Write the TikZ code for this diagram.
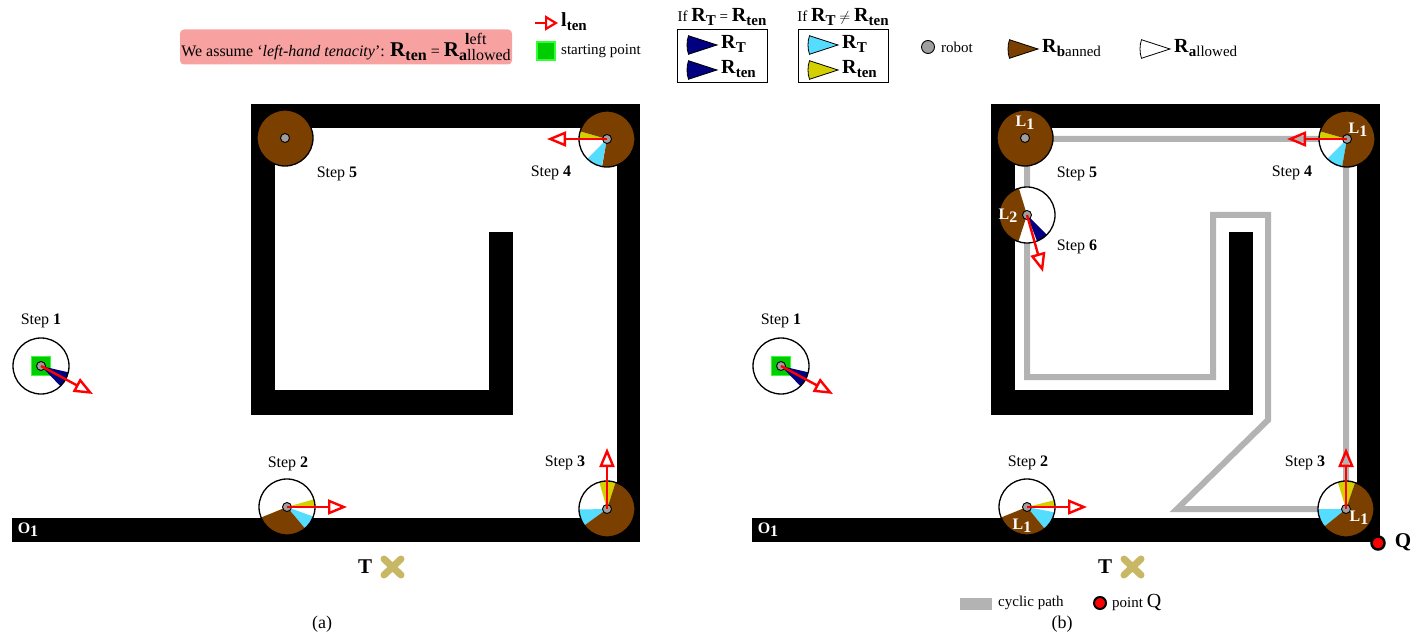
\documentclass[tikz,border=0pt]{standalone}
\usepackage{amsmath}
\usepackage{fontspec}
\setmainfont{Liberation Serif}
\usetikzlibrary{arrows.meta}

\definecolor{banned}{HTML}{7B3F00}
\definecolor{tyellow}{HTML}{D4CF00}
\definecolor{tcyan}{HTML}{55DDFF}
\definecolor{tnavy}{HTML}{000080}
\definecolor{pathgray}{HTML}{B3B3B3}
\definecolor{notepink}{HTML}{F7A1A1}
\definecolor{startgreen}{HTML}{00CC00}
\definecolor{targetx}{HTML}{C8B865}

% one coloured slice of a robot ring: centre, from, to, radius, colour
\newcommand{\slice}[5]{\fill[#5] (#1) -- ++(#2:#4) arc[start angle=#2, end angle=#3, radius=#4] -- cycle;}
% legend wedge, tip on the right
\newcommand{\iconwedge}[2]{\filldraw[icon, fill=#2] (#1) -- ++(162:30pt) arc[start angle=162, end angle=198, radius=30pt] -- cycle;}
\newcommand{\Rsub}[1]{{\fontsize{20}{20}\selectfont\textbf{R}}\raisebox{-4pt}{\fontsize{15}{15}\selectfont\textbf{#1}}}
\newcommand{\Rlr}[2]{{\fontsize{21}{21}\selectfont\textbf{R}}{\fontsize{16}{16}\selectfont\rlap{\hspace{6pt}\raisebox{12pt}{#1}}\raisebox{-4pt}{#2}}}

\begin{document}
\begin{tikzpicture}[x=1pt, y=-1pt,
  every node/.style={font=\fontsize{15}{18}\selectfont, inner sep=1pt},
  wall/.style={fill=black},
  ring/.style={draw=black, line width=1.3pt},
  robotdot/.style={circle, draw=black, line width=0.9pt, fill=gray!75, minimum size=9pt, inner sep=0pt},
  tenarrow/.style={draw=red, line width=2.4pt, -{Triangle[open, length=19pt, width=15pt]}},
  steptext/.style={font=\fontsize{16}{18}\selectfont},
  lmark/.style={text=white, font=\fontsize{16}{18}\selectfont\bfseries},
  cyclic/.style={draw=pathgray, line width=6pt},
  icon/.style={draw=black, line width=0.8pt},
  legbox/.style={draw=black, line width=1pt, minimum width=90pt, minimum height=53pt},
  startsq/.style={fill=startgreen, draw=green!80!white, line width=1.5pt, minimum size=18pt, inner sep=0pt},
  xmark/.style={draw=targetx, line width=7pt, line cap=round},
  qdot/.style={circle, fill=red, draw=black, line width=2.5pt, minimum size=13pt, inner sep=0pt},
  caption/.style={font=\fontsize{18}{20}\selectfont},
]
\useasboundingbox (0,0) rectangle (1423,636);

% ---------- legend ----------
\node[fill=notepink, rounded corners=4pt, minimum width=332pt, minimum height=35pt, font=\fontsize{16}{18}\selectfont] (assume) at (346,47)
  {We assume ‘\textit{left-hand tenacity}’: {\fontsize{21}{21}\selectfont\textbf{R}}\raisebox{-4pt}{\textbf{ten}} = \Rlr{\textbf{l}eft}{\textbf{a}llowed}};
\coordinate (tenfrom) at (535,23);
\coordinate (tento) at (558,23);
\draw[draw=red, line width=2.2pt, -{Triangle[open, length=13pt, width=15pt]}] (tenfrom) -- (tento);
\node[anchor=west] (tenlab) at (560,22) {{\fontsize{20}{20}\selectfont\textbf{l}}\raisebox{-4pt}{\textbf{ten}}};
\node[startsq] (startkey) at (546,51) {};
\node[anchor=west] (startlab) at (560,51) {starting point};

\node (eqtitle) at (722,17) {If \Rsub{T} = \Rsub{ten}};
\node[legbox] (eqbox) at (722,56) {};
\iconwedge{717,45}{tnavy}
\iconwedge{717,70}{tnavy}
\node[anchor=west] (eqrt) at (720,44) {\Rsub{T}};
\node[anchor=west] (eqrten) at (720,69) {\Rsub{ten}};

\node (neqtitle) at (843,17) {If \Rsub{T} $\neq$ \Rsub{ten}};
\node[legbox] (neqbox) at (843,56) {};
\iconwedge{838,45}{tcyan}
\iconwedge{838,70}{tyellow}
\node[anchor=west] (neqrt) at (841,44) {\Rsub{T}};
\node[anchor=west] (neqrten) at (841,69) {\Rsub{ten}};

\node[robotdot, minimum size=13pt] (robotkey) at (928,47) {};
\node[anchor=west] (robotlab) at (940,47) {robot};
\iconwedge{1038,49}{banned}
\node[anchor=west] (bannedlab) at (1041,48) {\Rsub{\textbf{b}\mdseries anned}};
\iconwedge{1170,49}{white}
\node[anchor=west] (allowedlab) at (1173,48) {\Rsub{\textbf{a}\mdseries llowed}};

% ---------- (a) walls ----------
\fill[wall] (12,518) rectangle (640,542);
\fill[wall] (617,104) rectangle (640,542);
\fill[wall] (251,104) rectangle (640,128);
\fill[wall] (251,104) rectangle (275,415);
\fill[wall] (251,390) rectangle (513,415);
\fill[wall] (489,232) rectangle (513,415);
\node[lmark] (o1a) at (28,530) {O\raisebox{-3pt}{1}};

% ---------- (b) walls ----------
\fill[wall] (752,518) rectangle (1380,542);
\fill[wall] (1357,104) rectangle (1380,542);
\fill[wall] (991,104) rectangle (1380,128);
\fill[wall] (991,104) rectangle (1015,415);
\fill[wall] (991,390) rectangle (1253,415);
\fill[wall] (1229,232) rectangle (1253,415);
\node[lmark] (o1b) at (768,530) {O\raisebox{-3pt}{1}};

% cyclic path
\draw[cyclic] (1027,139) -- (1346,139) -- (1346,509) -- (1177,509) -- (1268,420) -- (1268,215)
  -- (1213,215) -- (1213,377) -- (1027,377) -- cycle;

% ---------- (a) steps ----------
% step 1
\coordinate (s1a) at (41,366);
\fill[white] (s1a) circle[radius=28pt];
\node[startsq, minimum size=19pt] (start1a) at (s1a) {};
\slice{s1a}{-46}{-13}{28pt}{tnavy}
\draw[ring] (s1a) circle[radius=28pt];
\node[robotdot] (bot1a) at (s1a) {};
\coordinate (aim1a) at (93,394);
\draw[tenarrow] (bot1a.center) -- (aim1a);
\node[steptext] (lab1a) at (41,321) {Step \textbf{1}};

% step 2
\coordinate (s2a) at (287,507);
\fill[white] (s2a) circle[radius=28pt];
\slice{s2a}{0}{16}{28pt}{tyellow}
\slice{s2a}{-50}{-20}{28pt}{tcyan}
\slice{s2a}{-158}{-50}{28pt}{banned}
\draw[ring] (s2a) circle[radius=28pt];
\node[robotdot] (bot2a) at (s2a) {};
\coordinate (aim2a) at (347,507);
\draw[tenarrow] (bot2a.center) -- (aim2a);
\node[steptext] (lab2a) at (288,464) {Step \textbf{2}};

% step 3
\coordinate (s3a) at (607,509);
\fill[white] (s3a) circle[radius=28pt];
\slice{s3a}{72}{106}{28pt}{tyellow}
\slice{s3a}{181}{216}{28pt}{tcyan}
\slice{s3a}{-144}{72}{28pt}{banned}
\draw[ring] (s3a) circle[radius=28pt];
\node[robotdot] (bot3a) at (s3a) {};
\coordinate (aim3a) at (607,448);
\draw[tenarrow] (bot3a.center) -- (aim3a);
\node[steptext] (lab3a) at (565,463) {Step \textbf{3}};

% step 4
\coordinate (s4a) at (607,139);
\fill[white] (s4a) circle[radius=28pt];
\slice{s4a}{164}{180}{28pt}{tyellow}
\slice{s4a}{225}{259}{28pt}{tcyan}
\slice{s4a}{-100}{164}{28pt}{banned}
\draw[ring] (s4a) circle[radius=28pt];
\node[robotdot] (bot4a) at (s4a) {};
\coordinate (aim4a) at (547,139);
\draw[tenarrow] (bot4a.center) -- (aim4a);
\node[steptext] (lab4a) at (551,173) {Step \textbf{4}};

% step 5
\coordinate (s5a) at (285,138);
\filldraw[ring, fill=banned] (s5a) circle[radius=28pt];
\node[robotdot] (bot5a) at (s5a) {};
\node[steptext] (lab5a) at (337,174) {Step \textbf{5}};

% ---------- (b) steps ----------
% step 1
\coordinate (s1b) at (781,366);
\fill[white] (s1b) circle[radius=28pt];
\node[startsq, minimum size=19pt] (start1b) at (s1b) {};
\slice{s1b}{-46}{-13}{28pt}{tnavy}
\draw[ring] (s1b) circle[radius=28pt];
\node[robotdot] (bot1b) at (s1b) {};
\coordinate (aim1b) at (833,394);
\draw[tenarrow] (bot1b.center) -- (aim1b);
\node[steptext] (lab1b) at (781,321) {Step \textbf{1}};

% step 2
\coordinate (s2b) at (1027,507);
\fill[white] (s2b) circle[radius=28pt];
\slice{s2b}{0}{14}{28pt}{tyellow}
\slice{s2b}{-51}{-11}{28pt}{tcyan}
\slice{s2b}{-158}{-51}{28pt}{banned}
\draw[ring] (s2b) circle[radius=28pt];
\node[robotdot] (bot2b) at (s2b) {};
\coordinate (aim2b) at (1087,507);
\draw[tenarrow] (bot2b.center) -- (aim2b);
\node[steptext] (lab2b) at (1028,463) {Step \textbf{2}};
\node[lmark] (l2b) at (1022,526) {L\raisebox{-3pt}{1}};

% step 3
\coordinate (s3b) at (1346,509);
\fill[white] (s3b) circle[radius=28pt];
\slice{s3b}{71}{107}{28pt}{tyellow}
\slice{s3b}{180}{219}{28pt}{tcyan}
\slice{s3b}{-141}{71}{28pt}{banned}
\draw[ring] (s3b) circle[radius=28pt];
\node[robotdot] (bot3b) at (s3b) {};
\coordinate (aim3b) at (1346,448);
\draw[tenarrow] (bot3b.center) -- (aim3b);
\node[steptext] (lab3b) at (1305,463) {Step \textbf{3}};
\node[lmark] (l3b) at (1359,518) {L\raisebox{-3pt}{1}};

% step 4
\coordinate (s4b) at (1347,139);
\fill[white] (s4b) circle[radius=28pt];
\slice{s4b}{164}{180}{28pt}{tyellow}
\slice{s4b}{225}{260}{28pt}{tcyan}
\slice{s4b}{-100}{164}{28pt}{banned}
\draw[ring] (s4b) circle[radius=28pt];
\node[robotdot] (bot4b) at (s4b) {};
\coordinate (aim4b) at (1287,139);
\draw[tenarrow] (bot4b.center) -- (aim4b);
\node[steptext] (lab4b) at (1292,173) {Step \textbf{4}};
\node[lmark] (l4b) at (1358,130) {L\raisebox{-3pt}{1}};

% step 5
\coordinate (s5b) at (1025,138);
\filldraw[ring, fill=banned] (s5b) circle[radius=28pt];
\node[robotdot] (bot5b) at (s5b) {};
\node[steptext] (lab5b) at (1077,174) {Step \textbf{5}};
\node[lmark] (l5b) at (1025,123) {L\raisebox{-3pt}{1}};

% step 6
\coordinate (s6b) at (1027,215);
\fill[white] (s6b) circle[radius=28pt];
\slice{s6b}{107}{252}{28pt}{banned}
\slice{s6b}{-69}{-45}{28pt}{tnavy}
\draw[ring] (s6b) circle[radius=28pt];
\node[robotdot] (bot6b) at (s6b) {};
\coordinate (aim6b) at (1043,272);
\draw[tenarrow] (bot6b.center) -- (aim6b);
\node[steptext] (lab6b) at (1077,247) {Step \textbf{6}};
\node[lmark] (l6b) at (1008,216) {L\raisebox{-3pt}{2}};

% point Q and targets
\node[qdot] (qpt) at (1378,543) {};
\node[font=\fontsize{21}{22}\selectfont\bfseries] (qlab) at (1403,542) {Q};
\node[font=\fontsize{21}{22}\selectfont\bfseries] (ta) at (365,567) {T};
\draw[xmark] (384,559) -- (401,575) (384,575) -- (401,559);
\node[font=\fontsize{21}{22}\selectfont\bfseries] (tb) at (1105,567) {T};
\draw[xmark] (1124,559) -- (1141,575) (1124,575) -- (1141,559);

% bottom legend
\fill[pathgray] (960,598) rectangle (992,610);
\node[anchor=west] (cyclab) at (997,603) {cyclic path};
\node[qdot, minimum size=12pt, line width=2pt] (qkey) at (1100,603) {};
\node[anchor=west] (qkeylab) at (1111,602) {point {\fontsize{20}{20}\selectfont Q}};

\node[caption] (capa) at (322,624) {(a)};
\node[caption] (capb) at (1062,624) {(b)};
\end{tikzpicture}
\end{document}
